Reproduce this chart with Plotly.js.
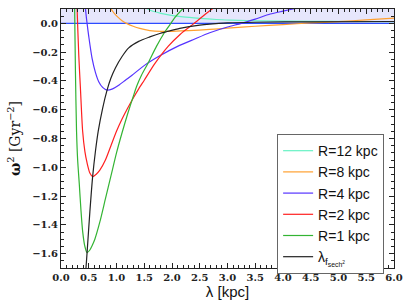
<!DOCTYPE html>
<html>
<head>
<meta charset="utf-8">
<script src="https://cdn.plot.ly/plotly-3.0.1.min.js"></script>
<style>
html,body{margin:0;padding:0;background:#fff;}
#chart{width:407px;height:305px;}
</style>
</head>
<body>
<div id="chart"></div>
<script>
// Series names (legend order)
const seriesNames = ["R=12 kpc", "R=8 kpc", "R=4 kpc", "R=2 kpc", "R=1 kpc", "λ<sub>f<sub>sech<sup>2</sup></sub></sub>"];

// R=12 kpc
const lamR12 = [1.45, 1.50, 1.60, 1.80, 1.96, 2.20, 2.50, 2.80, 3.05, 3.60, 4.50, 5.20, 6.00];
const w2R12  = [0.15, 0.12, 0.093, 0.070, 0.058, 0.045, 0.035, 0.027, 0.023, 0.017, 0.014, 0.013, 0.012];

// R=8 kpc
const lamR8 = [0.78, 0.89, 0.96, 1.03, 1.10, 1.18, 1.30, 1.42, 1.60, 1.80, 2.00, 2.30, 2.68, 3.00, 3.50, 4.00, 4.50, 5.00, 5.50, 6.00];
const w2R8  = [0.19, 0.107, 0.07, 0.042, 0.018, 0.0, -0.020, -0.035, -0.050, -0.056, -0.055, -0.050, -0.042, -0.033, -0.020, -0.008, 0.003, 0.012, 0.025, 0.037];

// R=4 kpc
const lamR4 = [0.42, 0.44, 0.47, 0.50, 0.56, 0.62, 0.68, 0.75, 0.83, 0.93, 1.04, 1.16, 1.28, 1.51, 1.78, 2.10, 2.40, 2.68, 3.00, 3.25, 3.50, 3.77, 4.00, 4.18, 4.50];
const w2R4  = [0.35, 0.107, 0.0, -0.09, -0.243, -0.34, -0.405, -0.445, -0.464, -0.455, -0.43, -0.395, -0.36, -0.29, -0.225, -0.16, -0.11, -0.065, -0.025, 0.0, 0.03, 0.065, 0.085, 0.10, 0.125];

// R=2 kpc
const lamR2 = [0.27, 0.29, 0.32, 0.35, 0.39, 0.43, 0.47, 0.52, 0.57, 0.63, 0.70, 0.80, 0.90, 1.00, 1.10, 1.20, 1.30, 1.40, 1.50, 1.69, 1.93, 2.15, 2.38, 2.68, 2.90];
const w2R2  = [0.45, 0.107, -0.22, -0.45, -0.75, -0.89, -0.97, -1.04, -1.065, -1.05, -1.02, -0.95, -0.85, -0.75, -0.665, -0.59, -0.52, -0.455, -0.395, -0.28, -0.16, -0.075, -0.005, 0.088, 0.15];

// R=1 kpc
const lamR1 = [0.232, 0.246, 0.26, 0.28, 0.30, 0.33, 0.36, 0.39, 0.43, 0.47, 0.52, 0.56, 0.61, 0.70, 0.80, 0.90, 1.00, 1.10, 1.20, 1.30, 1.36, 1.45, 1.57, 1.72, 1.87, 1.96, 2.05, 2.19, 2.40];
const w2R1  = [0.45, 0.10, -0.33, -0.75, -0.95, -1.12, -1.30, -1.445, -1.55, -1.593, -1.575, -1.545, -1.50, -1.38, -1.22, -1.06, -0.90, -0.76, -0.63, -0.51, -0.44, -0.36, -0.275, -0.16, -0.06, -0.01, 0.04, 0.10, 0.18];

// lambda_f locus (minima)
const lamF = [0.45, 0.47, 0.52, 0.57, 0.62, 0.67, 0.75, 0.83, 0.90, 0.98, 1.10, 1.22, 1.40, 1.60, 1.78, 1.90, 2.14, 2.50, 2.68, 3.00, 3.50, 4.50, 6.00];
const w2F  = [-1.70, -1.593, -1.31, -1.065, -0.89, -0.75, -0.59, -0.464, -0.38, -0.31, -0.23, -0.17, -0.125, -0.094, -0.07, -0.058, -0.035, -0.012, -0.005, 0.003, 0.008, 0.011, 0.013];

const xTickVals = [0, 0.5, 1, 1.5, 2, 2.5, 3, 3.5, 4, 4.5, 5, 5.5, 6];
const yTickVals = [0, -0.2, -0.4, -0.6, -0.8, -1.0, -1.2, -1.4, -1.6];

const colors = ["#66f2c4", "#ffa030", "#5533ff", "#ff2020", "#33b433", "#222222"];
const xs = [lamR12, lamR8, lamR4, lamR2, lamR1, lamF];
const ys = [w2R12, w2R8, w2R4, w2R2, w2R1, w2F];

const traces = xs.map((x, i) => ({
  x: x, y: ys[i], type: "scatter", mode: "lines", name: seriesNames[i],
  line: {color: colors[i], width: 1.2, shape: "spline", smoothing: 0.7}
}));

const tickFont = {family: "DejaVu Serif", size: 10, color: "#222", weight: "bold"};

const layout = {
  width: 407, height: 305,
  margin: {l: 61, r: 13, t: 9, b: 37},
  paper_bgcolor: "#fff", plot_bgcolor: "#fff",
  showlegend: true,
  legend: {
    x: 0.649, y: 0.517, xanchor: "left", yanchor: "top",
    bgcolor: "#fff", bordercolor: "#666", borderwidth: 1,
    font: {family: "Liberation Sans", size: 14, color: "#111"},
    tracegroupgap: 0
  },
  xaxis: {
    range: [0, 6], tickvals: xTickVals, tickformat: ".1f",
    ticks: "inside", ticklen: 5, tickcolor: "#222", tickwidth: 1,
    showline: true, linecolor: "#222", linewidth: 1, mirror: "allticks",
    showgrid: false, zeroline: false, tickfont: tickFont,
    minor: {dtick: 0.1, ticks: "inside", ticklen: 3, tickcolor: "#222", showgrid: false},
    title: {text: "λ [kpc]", font: {family: "Liberation Sans", size: 15, color: "#111"}, standoff: 3}
  },
  yaxis: {
    range: [-1.7, 0.1], tickvals: yTickVals, tickformat: ".1f",
    ticks: "inside", ticklen: 5, tickcolor: "#222", tickwidth: 1,
    showline: true, linecolor: "#222", linewidth: 1, mirror: "allticks",
    showgrid: false, zeroline: false, tickfont: tickFont,
    minor: {dtick: 0.05, ticks: "inside", ticklen: 3, tickcolor: "#222", showgrid: false},
    title: {text: "<b>ω</b><sup>2</sup> [Gyr<sup>−2</sup>]", font: {family: "DejaVu Serif", size: 14, color: "#111"}, standoff: 8}
  },
  shapes: [
    {type: "rect", xref: "x", yref: "y", x0: 0, x1: 6, y0: 0, y1: 0.1,
     fillcolor: "rgb(230,230,252)", line: {width: 0}, layer: "below"},
    {type: "line", xref: "x", yref: "y", x0: 0, x1: 6, y0: 0, y1: 0,
     line: {color: "#2d4cff", width: 1.2}, layer: "below"}
  ]
};

Plotly.newPlot("chart", traces, layout, {staticPlot: true, displayModeBar: false});
</script>
</body>
</html>
